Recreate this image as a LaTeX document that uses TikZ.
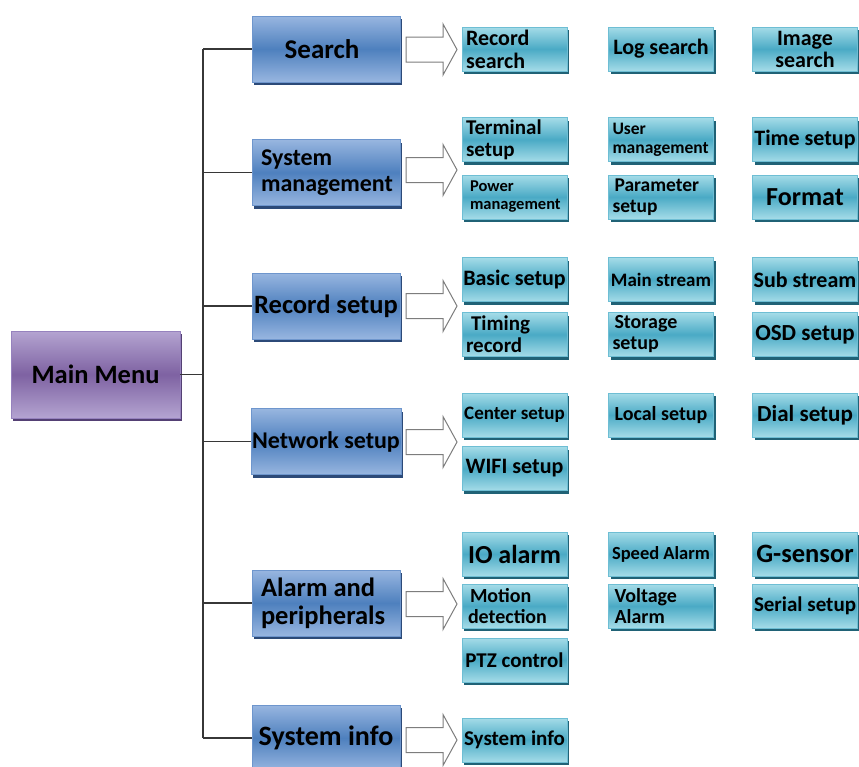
\documentclass[tikz,border=0pt]{standalone}
\usepackage{fontspec}
\setmainfont{Carlito}
\usetikzlibrary{shadows}
\definecolor{mmL}{RGB}{180,164,209}
\definecolor{mmD}{RGB}{126,98,162}
\definecolor{mmS}{RGB}{84,64,116}
\definecolor{mmB}{RGB}{150,130,190}
\definecolor{bL}{RGB}{152,182,224}
\definecolor{bD}{RGB}{78,128,190}
\definecolor{bS}{RGB}{44,74,120}
\definecolor{bB}{RGB}{110,150,205}
\definecolor{cL}{RGB}{165,220,232}
\definecolor{cD}{RGB}{74,170,197}
\definecolor{cS}{RGB}{32,98,118}
\definecolor{cB}{RGB}{110,190,212}
\definecolor{lineC}{RGB}{55,55,55}
\definecolor{arrC}{RGB}{125,125,125}
\newcommand\fsz[2]{\fontsize{#1}{#2}\selectfont}
\begin{document}
\begin{tikzpicture}[x=1pt,y=-1pt,
  mainbox/.style={draw=mmB, line width=0.6pt, top color=mmL, bottom color=mmL, middle color=mmD,
    minimum width=169pt, minimum height=87pt, inner sep=2pt, font=\bfseries\fsz{26.5}{28},
    drop shadow={shadow xshift=2pt, shadow yshift=-3pt, fill=mmS, opacity=1}},
  catbox/.style={draw=bB, line width=0.6pt, top color=bL, bottom color=bL, middle color=bD,
    minimum width=148pt, minimum height=66pt, inner sep=1pt, align=center,
    drop shadow={shadow xshift=2pt, shadow yshift=-3pt, fill=bS, opacity=1}},
  subbox/.style={draw=cB, line width=0.6pt, top color=cL, bottom color=cL, middle color=cD,
    minimum width=105pt, minimum height=44pt, inner xsep=1pt, inner ysep=0pt, align=center,
    drop shadow={shadow xshift=2pt, shadow yshift=-3pt, fill=cS, opacity=1}},
  lft/.style={text width=97pt, align=flush left},
  clft/.style={text width=130pt, align=flush left},
  conn/.style={draw=lineC, line width=1.2pt},
  hollowarrow/.style={draw=arrC, line width=1pt, fill=white, line join=miter}
]
\useasboundingbox (0,0) rectangle (859,766);

% main menu
\node[mainbox] (mm) at (95.5,374.5) {Main Menu};

% categories
\node[catbox, font=\bfseries\fsz{27}{29}] (search) at (326,49) {\hspace*{-8pt}Search};
\node[catbox, clft, font=\bfseries\fsz{24}{26}] (sysm) at (326,172.5) {System\\management};
\node[catbox, font=\bfseries\fsz{26.5}{28}] (recs) at (326,306) {Record setup};
\node[catbox, font=\bfseries\fsz{24}{26}] (nets) at (326,441.5) {Network setup};
\node[catbox, clft, font=\bfseries\fsz{26.5}{28}] (alarm) at (326,603) {Alarm and\\peripherals};
\node[catbox, font=\bfseries\fsz{28}{30}] (sysinfo) at (326,738) {System info};

% connectors
\coordinate (trunk) at (203,0);
\draw[conn] (mm.east) -- (mm.east -| trunk);
\draw[conn] (trunk |- search.west) -- (trunk |- sysinfo.west);
\foreach \n in {search,sysm,recs,nets,alarm,sysinfo}
  \draw[conn] (trunk |- \n.west) -- (\n.west);

% hollow arrows
\foreach \yy in {49.5,170,306,442,604,740}
  \draw[hollowarrow] (406,{\yy-12.5}) -- (443,{\yy-12.5}) -- (443,{\yy-25.5}) -- (457,\yy)
     -- (443,{\yy+25.5}) -- (443,{\yy+12.5}) -- (406,{\yy+12.5}) -- cycle;

% Search row
\node[subbox, lft, font=\bfseries\fsz{22}{23}] (rsearch) at (514.5,49) {Record\\search};
\node[subbox, font=\bfseries\fsz{22}{24}] (lsearch) at (661,49) {Log search};
\node[subbox, font=\bfseries\fsz{22}{22}] (isearch) at (805,49) {Image\\search};

% System management rows
\node[subbox, lft, font=\bfseries\fsz{21}{22}] (term) at (514.5,139.5) {Terminal\\setup};
\node[subbox, lft, font=\bfseries\fsz{17.5}{19}] (user) at (661,139.5) {User\\management};
\node[subbox, font=\bfseries\fsz{22}{24}] (time) at (805,139.5) {Time setup};
\node[subbox, lft, font=\bfseries\fsz{16.5}{18}] (power) at (514.5,197) {\hspace*{4pt}Power\\\hspace*{4pt}management};
\node[subbox, lft, font=\bfseries\fsz{19.5}{21}] (param) at (661,197) {\hspace*{2pt}Parameter\\setup};
\node[subbox, font=\bfseries\fsz{26}{28}] (format) at (805,197) {Format};

% Record setup rows
\node[subbox, font=\bfseries\fsz{22}{24}] (basic) at (514.5,279.5) {Basic setup};
\node[subbox, font=\bfseries\fsz{19}{21}] (mainst) at (661,279.5) {Main stream};
\node[subbox, font=\bfseries\fsz{22}{24}] (subst) at (805,279.5) {Sub stream};
\node[subbox, lft, font=\bfseries\fsz{21}{22}] (timing) at (514.5,334.5) {\hspace*{5pt}Timing\\record};
\node[subbox, lft, font=\bfseries\fsz{20}{21}] (storage) at (661,334.5) {\hspace*{2pt}Storage\\setup};
\node[subbox, font=\bfseries\fsz{23}{25}] (osd) at (805,334.5) {OSD setup};

% Network setup rows
\node[subbox, font=\bfseries\fsz{19}{21}] (center) at (514.5,415) {Center setup};
\node[subbox, font=\bfseries\fsz{20}{22}] (local) at (661,415) {Local setup};
\node[subbox, font=\bfseries\fsz{23}{25}] (dial) at (805,415) {Dial setup};
\node[subbox, font=\bfseries\fsz{22}{24}] (wifi) at (514.5,468.5) {WIFI setup};

% Alarm rows
\node[subbox, font=\bfseries\fsz{26}{28}] (io) at (514.5,554) {IO alarm};
\node[subbox, font=\bfseries\fsz{18.5}{20}] (speed) at (661,554) {Speed Alarm};
\node[subbox, font=\bfseries\fsz{26.5}{28}] (gsensor) at (805,554) {G-sensor};
\node[subbox, lft, font=\bfseries\fsz{20}{21}] (motion) at (514.5,606) {\hspace*{4pt}Motion\\\hspace*{2pt}detection};
\node[subbox, lft, font=\bfseries\fsz{20}{21}] (voltage) at (661,606) {\hspace*{2pt}Voltage\\\hspace*{2pt}Alarm};
\node[subbox, font=\bfseries\fsz{21}{23}] (serial) at (805,606) {Serial setup};
\node[subbox, font=\bfseries\fsz{21}{23}] (ptz) at (514.5,660) {PTZ control};

% System info row
\node[subbox, font=\bfseries\fsz{21}{23}] (sinfo) at (514.5,740) {System info};
\end{tikzpicture}
\end{document}
